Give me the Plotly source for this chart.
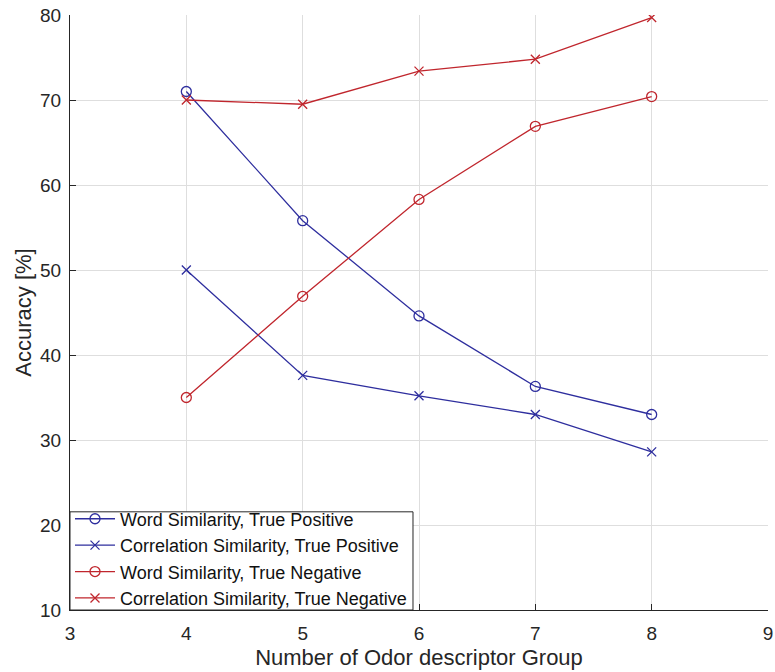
import plotly.graph_objects as go

groups = [4, 5, 6, 7, 8]
word_tp = [71.0, 55.8, 44.6, 36.3, 33.0]
corr_tp = [50.0, 37.6, 35.2, 33.0, 28.6]
word_tn = [35.0, 46.9, 58.3, 66.9, 70.4]
corr_tn = [70.0, 69.5, 73.4, 74.8, 79.7]

names = [
    "Word Similarity, True Positive",
    "Correlation Similarity, True Positive",
    "Word Similarity, True Negative",
    "Correlation Similarity, True Negative",
]
series = [word_tp, corr_tp, word_tn, corr_tn]
BLUE = "#2e2e9e"
RED = "#c0262d"
colors = [BLUE, BLUE, RED, RED]
symbols = ["circle-open", "x-thin-open", "circle-open", "x-thin-open"]

fig = go.Figure()
for n, s, c, sym in zip(names, series, colors, symbols):
    fig.add_trace(go.Scatter(
        x=groups, y=s, name=n, mode="lines+markers",
        line=dict(color=c, width=1.3),
        marker=dict(symbol=sym, size=10 if sym.startswith("circle") else 9,
                    color=c, line=dict(color=c, width=1.3)),
    ))

FONT = "Liberation Sans, Arial, sans-serif"
fig.update_layout(
    width=775, height=672,
    margin=dict(l=70, r=7, t=15, b=62, autoexpand=False),
    paper_bgcolor="white", plot_bgcolor="white",
    font=dict(family=FONT, color="#262626"),
    showlegend=True,
    legend=dict(
        x=0, y=-0.011, xanchor="left", yanchor="bottom",
        bgcolor="rgba(0,0,0,0)", borderwidth=0,
        font=dict(size=18, family=FONT, color="#111111"),
        itemwidth=40, tracegroupgap=0,
    ),
    shapes=[dict(
        type="rect", xref="paper", yref="paper",
        x0=0, x1=0.4914, y0=0, y1=0.165,
        line=dict(color="#262626", width=1), fillcolor="white", layer="above",
    )],
)
fig.update_xaxes(
    range=[3, 9], tickvals=[3, 4, 5, 6, 7, 8, 9],
    automargin=False, ticklabeloverflow="allow",
    showgrid=True, gridcolor="#dedede", gridwidth=1,
    showline=True, linecolor="#262626", linewidth=1,
    ticks="inside", ticklen=6, tickcolor="#262626",
    tickfont=dict(size=19, family=FONT, color="#262626"),
    ticklabelstandoff=6,
    zeroline=False, mirror=False,
    title=dict(text="Number of Odor descriptor Group",
               font=dict(size=22, family=FONT, color="#262626"), standoff=6),
)
fig.update_yaxes(
    range=[10, 80], tickvals=[10, 20, 30, 40, 50, 60, 70, 80],
    automargin=False, ticklabeloverflow="allow",
    showgrid=True, gridcolor="#dedede", gridwidth=1,
    showline=True, linecolor="#262626", linewidth=1,
    ticks="inside", ticklen=6, tickcolor="#262626",
    tickfont=dict(size=19, family=FONT, color="#262626"),
    ticklabelstandoff=4,
    zeroline=False, mirror=False,
    title=dict(text="Accuracy [%]",
               font=dict(size=22, family=FONT, color="#262626"), standoff=2),
)

fig.write_html("out.html", config={"displayModeBar": False},
               post_script="document.body.style.margin='0';document.body.style.overflow='hidden';")
